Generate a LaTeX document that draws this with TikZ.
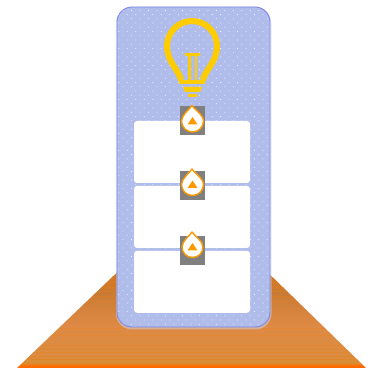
\documentclass[tikz,border=0pt]{standalone}
\usepackage{amsmath}
\usetikzlibrary{arrows.meta,positioning,calc,patterns.meta}
\definecolor{lampyellow}{HTML}{FFCC00}
\definecolor{paneblue}{HTML}{B0BDEB}
\definecolor{paneedge}{HTML}{7C86E6}
\definecolor{markorange}{HTML}{FF9900}
\definecolor{markgray}{HTML}{808080}
\pgfdeclareverticalshading{floorshade}{100bp}{
  rgb(0bp)=(1,.40,0);
  rgb(25bp)=(1,.40,0);
  rgb(26bp)=(1,.42,0);
  rgb(27.5bp)=(.85,.55,.20);
  rgb(31bp)=(.86,.55,.25);
  rgb(45bp)=(.87,.54,.27);
  rgb(60bp)=(.79,.48,.20);
  rgb(75bp)=(.88,.46,.10);
  rgb(100bp)=(.88,.46,.10)}
\begin{document}
\begin{tikzpicture}[x=1pt,y=-1pt,
      pane/.style={draw=paneedge,fill=paneblue,line width=0.9pt,rounded corners=15pt,
        minimum width=153pt,minimum height=320pt,inner sep=0pt},
      card/.style={fill=white,rounded corners=3pt,minimum width=116pt,minimum height=62pt,inner sep=0pt},
      patch/.style={fill=markgray,minimum width=25pt,minimum height=29pt,inner sep=0pt},
      lamp/.style={draw=lampyellow,line width=6pt,line join=round}]
    \useasboundingbox (0,0) rectangle (375,371);
    % floor under the panel
    \begin{scope}
      \clip (130,260) -- (255,260) -- (366,368) -- (17,368) -- cycle;
      \shade[shading=floorshade] (17,260) rectangle (366,368);
      \foreach \ya in {282,287,291,296,301,328,335,345,349,352,356,359}
        \draw[orange!70!brown,opacity=.35,line width=.8pt] (17,\ya) -- (366,\ya);
    \end{scope}
    % panel
    \fill[paneblue!60!white,opacity=.5,rounded corners=16pt] (116,7) rectangle (271.5,329.5);
    \node[pane] (panel) at (193.5,167) {};
    \fill[pattern={Dots[radius=.55pt,distance=6pt,angle=45]},pattern color=white!85!paneblue,
      rounded corners=15pt] (panel.north west) rectangle (panel.south east);
    % bulb
    \draw[lamp] (181,80) .. controls (179,70) and (167,62) .. (167,46)
      arc[start angle=180,end angle=360,radius=25] .. controls (217,62) and (205,70) .. (203,80);
    \fill[lampyellow] (185,53) rectangle (200,56);
    \fill[lampyellow] (188,56) rectangle (190.5,80);
    \fill[lampyellow] (194.5,56) rectangle (197,80);
    \fill[lampyellow] (179,80) rectangle (205,84);
    \fill[lampyellow] (183,87) -- (202,87) -- (200,92) -- (185,92) -- cycle;
    \fill[lampyellow] (188,94) rectangle (197,97);
    % cards
    \node[card] (cardA) at (192,152) {};
    \node[card,below=2.5pt of cardA] (cardB) {};
    \node[card,below=2.5pt of cardB] (cardC) {};
    % markers
    \foreach \nm/\yc/\ym/\rr in {A/121/121/11,B/186/184.5/11,C/251/247/10.5}{
      \node[patch] (patch\nm) at (192.5,\yc) {};
      \draw[markorange,fill=white,line width=1.4pt,line join=round]
        (192,\ym-\rr-4.5) .. controls (194,\ym-\rr-1) and (192.5+\rr,\ym-6) .. (192.5+\rr,\ym)
        arc[start angle=0,end angle=180,radius=\rr]
        .. controls (192.5-\rr,\ym-6) and (190,\ym-\rr-1) .. cycle;
      \fill[markorange] (192.5,\ym-4) -- (197.5,\ym+3.5) -- (187.5,\ym+3.5) -- cycle;
    }
  \end{tikzpicture}
\end{document}
